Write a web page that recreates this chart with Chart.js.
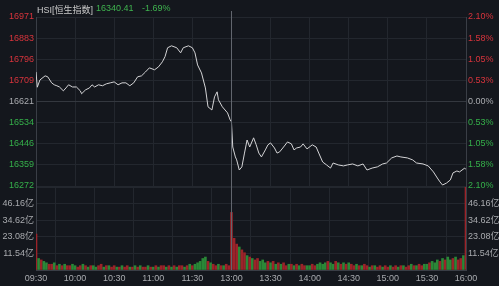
<!DOCTYPE html>
<html>
<head>
<meta charset="utf-8">
<script src="https://cdn.jsdelivr.net/npm/chart.js@4.4.1/dist/chart.umd.min.js"></script>
<style>
body { margin: 0; background: #14171d; }
#wrap { position: relative; width: 499px; height: 286px; overflow: hidden; }
canvas { position: absolute; left: 0; top: 0; }
.head { position: absolute; top: 3px; font: 9px "Liberation Sans", "Noto Sans CJK SC", sans-serif; white-space: nowrap; }
</style>
</head>
<body>
<div id="wrap">
  <canvas id="priceChart" width="499" height="286"></canvas>
  <canvas id="volChart" width="499" height="286"></canvas>
  <div class="head" style="left:37px;color:#c9c9c9">HSI[恒生指数]</div>
  <div class="head" style="left:96px;color:#3fb34f">16340.41</div>
  <div class="head" style="left:142px;color:#3fb34f">-1.69%</div>
</div>
<script>
// minutes since 09:30 (lunch break removed), 0..330
const timeTicks = [0, 30, 60, 90, 120, 150, 180, 210, 240, 270, 300, 330];
const timeLabels = ['09:30', '10:00', '10:30', '11:00', '11:30', '13:00', '13:30', '14:00', '14:30', '15:00', '15:30', '16:00'];

const prevClose = 16621;
const priceLabels = ['16971', '16883', '16796', '16709', '16621', '16534', '16446', '16359', '16272'];
const pctLabels = ['2.10%', '1.58%', '1.05%', '0.53%', '0.00%', '0.53%', '1.05%', '1.58%', '2.10%'];

const priceMinutes = [0, 1, 3, 7, 9, 12, 14, 16, 18, 21, 23, 25, 28, 31, 34, 35, 38, 41, 43, 45, 48, 51, 54, 57, 60,
  63, 66, 69, 72, 75, 78, 81, 84, 87, 91, 94, 97, 99, 101, 104, 108, 111, 113, 117, 120, 122, 124, 127, 130,
  132, 135, 137, 139, 140, 143, 147, 149, 150, 151, 153, 154, 156, 158, 160, 162, 164, 167, 169, 171, 173, 176,
  178, 180, 183, 185, 187, 190, 193, 196, 198, 200, 203, 205, 208, 212, 215, 217, 220, 223, 226, 228, 232,
  236, 239, 243, 247, 251, 254, 258, 262, 266, 269, 273, 277, 280, 285, 289, 292, 297, 301, 305, 308, 310,
  312, 315, 318, 320, 323, 325, 329, 330];
const prices = [16743, 16680, 16710, 16727, 16723, 16698, 16690, 16686, 16681, 16665, 16677, 16690, 16681, 16681, 16665, 16653, 16669, 16677, 16690, 16681, 16690, 16686, 16694, 16698, 16702,
  16690, 16698, 16698, 16686, 16698, 16723, 16727, 16743, 16760, 16752, 16764, 16785, 16806, 16843, 16851, 16843, 16822, 16843, 16851, 16843, 16822, 16772, 16739, 16677,
  16599, 16586, 16640, 16661, 16628, 16599, 16574, 16545, 16537, 16433, 16392, 16380, 16338, 16351, 16408, 16462, 16433, 16471, 16442, 16408, 16392, 16421,
  16442, 16450, 16429, 16408, 16413, 16433, 16454, 16446, 16421, 16429, 16433, 16446, 16425, 16442, 16433, 16408, 16371, 16359, 16346, 16367, 16359,
  16355, 16359, 16363, 16355, 16363, 16338, 16346, 16351, 16363, 16367, 16388, 16396, 16392, 16388, 16380, 16367, 16363, 16355, 16330, 16305, 16289,
  16276, 16284, 16297, 16326, 16334, 16330, 16346, 16340];

// turnover (亿) every 2 minutes
const volumes = [
  25, 8, 7, 6, 5, 4, 4, 5, 3, 4, 3, 4, 3, 3, 4,
  3, 2, 3, 4, 3, 2, 3, 3, 2, 3, 4, 2, 3, 3, 2,
  3, 2, 2, 3, 2, 3, 2, 2, 3, 2, 3, 2, 2, 3, 2,
  2, 3, 2, 3, 3, 2, 3, 2, 3, 2, 3, 3, 2, 3, 4,
  3, 4, 5, 6, 8, 9, 6, 5, 4, 3, 4, 3, 3, 4, 3,
  40, 22, 18, 16, 14, 12, 10, 9, 8, 7, 8, 6, 7, 5, 6,
  5, 6, 4, 5, 4, 5, 3, 4, 4, 3, 4, 3, 4, 3, 3,
  3, 4, 3, 4, 5, 4, 5, 6, 5, 4, 6, 5, 4, 5, 4,
  5, 4, 3, 4, 3, 3, 4, 3, 2, 3, 3, 2, 3, 2, 3,
  2, 3, 2, 3, 2, 3, 3, 2, 3, 4, 3, 3, 4, 3, 4,
  4, 5, 6, 5, 7, 6, 8, 7, 9, 7, 8, 9, 7, 8, 10,
  80];
const volDirs = 'rgrggrrgrgrgrrg' + 'grrgrgrggrrgrgr' + 'rgrgrrgrgrgrrgr' + 'grgrrgrgrgrrgrg' +
  'rgggggrgrrgrgrr' + 'rrrgrrgrgrrgggr' + 'grgrgrrgrgrgrrg' + 'grrggggrggrgrgr' +
  'grrgrgrrgrgrrgr' + 'rgrrgrgrrgrgrrg' + 'grgggrgrggrgrrg' + 'r';
const volTicks = [0, 11.54, 23.08, 34.62, 46.16, 57.70];
const volLabels = ['', '11.54亿', '23.08亿', '34.62亿', '46.16亿', ''];

const RED = '#d8343c';
const GREEN = '#35b04a';
const GREY = '#a9abaf';
const GRID = '#23272e';
const FONT = { family: '"Liberation Sans", "Noto Sans CJK SC", sans-serif', size: 9 };

const pMin = prevClose * (1 - 0.021);
const pMax = prevClose * (1 + 0.021);

const priceTicks = axis => {
  axis.ticks = priceLabels.map((_, i) => ({ value: pMin + i * (pMax - pMin) / 8 }));
};
const tickColor = ctx => ctx.index > 4 ? RED : (ctx.index === 4 ? GREY : GREEN);

new Chart(document.getElementById('priceChart'), {
  type: 'line',
  data: {
    datasets: [{
      data: priceMinutes.map((m, i) => ({ x: m, y: prices[i] })),
      borderColor: '#d4d4d6',
      borderWidth: 1,
      pointRadius: 0,
      tension: 0,
      yAxisID: 'y',
    }],
  },
  options: {
    responsive: false,
    animation: false,
    layout: { padding: { top: 17, bottom: 100, left: 0, right: 0 } },
    plugins: { legend: { display: false }, tooltip: { enabled: false } },
    scales: {
      x: {
        type: 'linear', min: 0, max: 330,
        afterBuildTicks: axis => { axis.ticks = timeTicks.map(v => ({ value: v })); },
        afterFit: axis => { axis.height = 0; },
        ticks: { display: false },
        grid: { color: GRID, drawTicks: false },
        border: { display: false },
      },
      y: {
        position: 'left', min: pMin, max: pMax,
        afterBuildTicks: priceTicks,
        afterFit: axis => { axis.width = 36; },
        ticks: { font: FONT, padding: 2, color: tickColor, callback: (v, i) => priceLabels[8 - i] },
        grid: { color: ctx => ctx.index === 4 ? '#34383f' : GRID, drawTicks: false },
        border: { color: '#3a3e46' },
      },
      y2: {
        position: 'right', min: pMin, max: pMax,
        afterBuildTicks: priceTicks,
        afterFit: axis => { axis.width = 33; },
        ticks: { font: FONT, padding: 2, color: tickColor, callback: (v, i) => pctLabels[8 - i] },
        grid: { display: false, drawTicks: false },
        border: { color: '#3a3e46' },
      },
    },
  },
});

const middayLine = {
  id: 'middayLine',
  afterDatasetsDraw(chart) {
    const x = Math.round(chart.scales.x.getPixelForValue(150)) + 0.5;
    const ctx = chart.ctx;
    ctx.save();
    ctx.strokeStyle = '#62666e';
    ctx.lineWidth = 1;
    ctx.beginPath();
    ctx.moveTo(x, 11);
    ctx.lineTo(x, chart.chartArea.bottom);
    ctx.stroke();
    ctx.restore();
  },
};

new Chart(document.getElementById('volChart'), {
  type: 'bar',
  data: {
    datasets: [{
      data: volumes.map((v, i) => ({ x: i * 2, y: v })),
      backgroundColor: volumes.map((v, i) => volDirs[i] === 'r' ? '#9c2329' : '#2a8837'),
      barThickness: 2,
      yAxisID: 'y',
    }],
  },
  options: {
    responsive: false,
    animation: false,
    layout: { padding: { top: 187, bottom: 0, left: 0, right: 0 } },
    plugins: { legend: { display: false }, tooltip: { enabled: false } },
    scales: {
      x: {
        type: 'linear', min: 0, max: 330, offset: false,
        afterBuildTicks: axis => { axis.ticks = timeTicks.map(v => ({ value: v })); },
        afterFit: axis => { axis.height = 16; },
        ticks: { font: FONT, color: GREY, padding: 3, maxRotation: 0, autoSkip: false,
          callback: (v, i) => timeLabels[i] },
        grid: { color: GRID, drawTicks: false },
        border: { color: '#3a3e46' },
      },
      y: {
        position: 'left', min: 0, max: 57.70,
        afterBuildTicks: axis => { axis.ticks = volTicks.map(v => ({ value: v })); },
        afterFit: axis => { axis.width = 36; },
        ticks: { font: FONT, color: GREY, padding: 2, callback: (v, i) => volLabels[i] },
        grid: { color: GRID, drawTicks: false },
        border: { color: '#3a3e46' },
      },
      y2: {
        position: 'right', min: 0, max: 57.70,
        afterBuildTicks: axis => { axis.ticks = volTicks.map(v => ({ value: v })); },
        afterFit: axis => { axis.width = 33; },
        ticks: { font: FONT, color: GREY, padding: 2, callback: (v, i) => volLabels[i] },
        grid: { display: false, drawTicks: false },
        border: { color: '#3a3e46' },
      },
    },
  },
  plugins: [middayLine],
});
</script>
</body>
</html>
